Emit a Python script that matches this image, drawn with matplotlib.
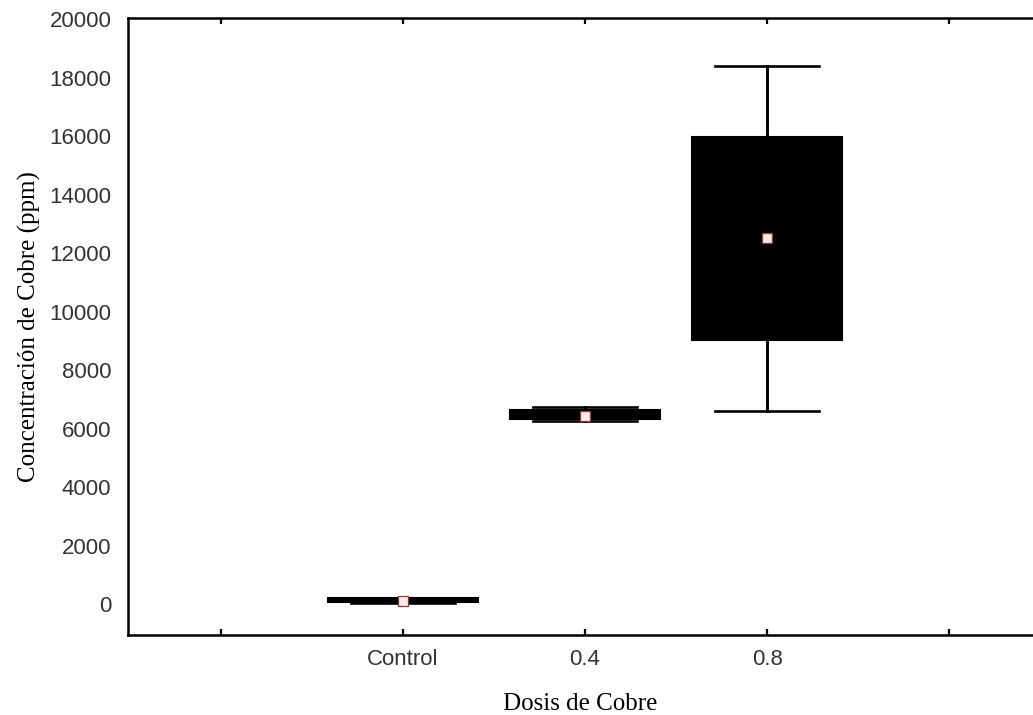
import matplotlib
matplotlib.use("Agg")
import matplotlib.pyplot as plt

# data
categories = ["Control", "0.4", "0.8"]
positions = [1, 2, 3]
whislo = [30, 6260, 6600]
q1 = [70, 6330, 9040]
med = [90, 6440, 12530]
q3 = [190, 6640, 15970]
whishi = [200, 6740, 18420]

fig = plt.figure(figsize=(10.33, 7.15), dpi=100)
ax = fig.add_axes([128 / 1033, 1 - 635 / 715, 1 - 128 / 1033, (635 - 18) / 715])

stats = []
for i in range(len(categories)):
    stats.append({"label": categories[i], "whislo": whislo[i], "q1": q1[i],
                  "med": med[i], "q3": q3[i], "whishi": whishi[i],
                  "mean": med[i], "fliers": []})

ax.bxp(stats, positions=positions, widths=0.82, capwidths=0.57,
       patch_artist=True, showmeans=True, showfliers=False,
       boxprops=dict(facecolor="black", edgecolor="black", linewidth=1.5),
       whiskerprops=dict(color="black", linewidth=2.1),
       capprops=dict(color="black", linewidth=1.9),
       medianprops=dict(linewidth=0),
       meanprops=dict(marker="s", markersize=7, markerfacecolor="#fde8e8",
                      markeredgecolor="#8b3a3a", markeredgewidth=0.9))

ax.set_xlim(-0.51, 4.46)
ax.set_ylim(-1060, 20050)

ax.set_xticks([0, 1, 2, 3, 4])
ax.set_xticklabels(["", "Control", "0.4", "0.8", ""])
ax.set_yticks(range(0, 20001, 2000))

ax.tick_params(axis="x", direction="in", length=4, width=1.6, top=True,
               labelsize=16, labelcolor="#333333", pad=10)
ax.tick_params(axis="y", length=0, labelsize=16, labelcolor="#333333", pad=12)
for lab in ax.get_xticklabels() + ax.get_yticklabels():
    lab.set_fontfamily("Liberation Sans")

for side in ["left", "bottom", "top"]:
    ax.spines[side].set_linewidth(1.8)
ax.spines["right"].set_visible(False)

ax.set_xlabel("Dosis de Cobre", fontfamily="Liberation Serif", fontsize=18, labelpad=17)
ax.set_ylabel("Concentración de Cobre (ppm)", fontfamily="Liberation Serif",
              fontsize=18, labelpad=6)

fig.savefig("out.png", dpi=100)
